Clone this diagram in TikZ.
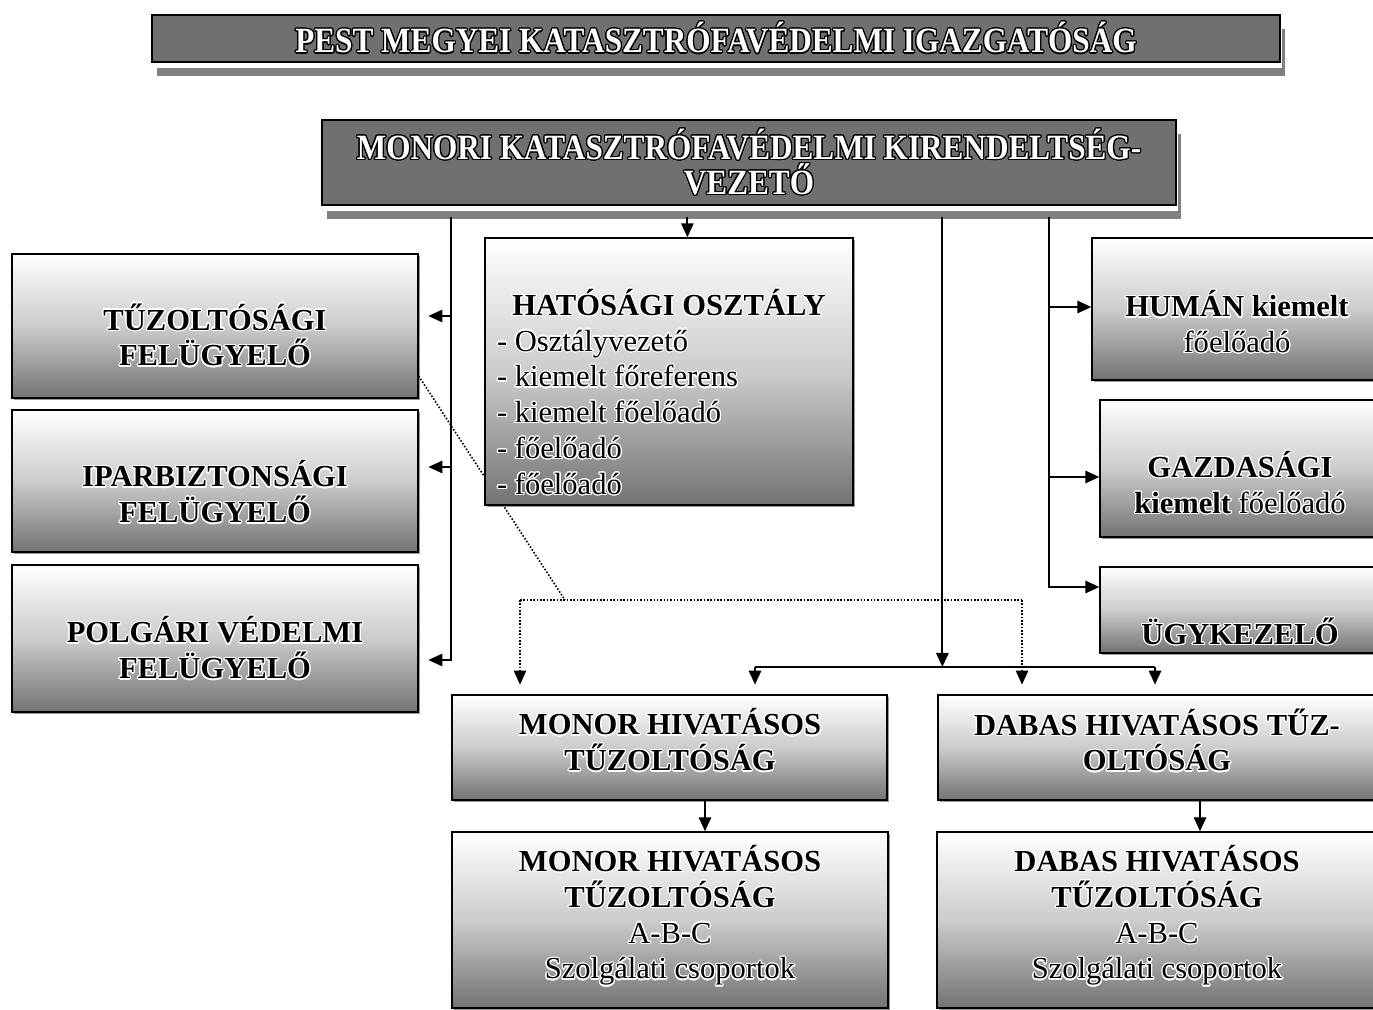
\documentclass[tikz,border=0pt]{standalone}
\usepackage{fontspec}
\setmainfont{Liberation Serif}
\newfontfamily\narrowserif{Liberation Serif}[FakeStretch=0.88]
\usepackage[copies]{contour}
\contourlength{0.7pt}
\usetikzlibrary{arrows.meta,shadows,calc}

\newcommand{\wh}[1]{\contour{white}{#1}}
\newcommand{\bk}[1]{\contour{black}{#1}}

\tikzset{
  darkbox/.style={draw=black, line width=0.8pt, fill=black!56, inner sep=0pt,
    text=white, align=center,
    font=\narrowserif\bfseries\fontsize{20.2}{20}\selectfont,
    drop shadow={shadow xshift=2.8pt, shadow yshift=-8pt, fill=black!50, opacity=1},
    drop shadow={shadow xshift=1.1pt, shadow yshift=-3.2pt, fill=white, opacity=1}},
  lightbox/.style={draw=black, line width=0.8pt, inner sep=0pt,
    top color=white, bottom color=black!55, middle color=black!20,
    drop shadow={shadow xshift=1.2pt, shadow yshift=-1.2pt, fill=black!40, opacity=1}},
  boxtext/.style={inner sep=0pt, align=center, font=\fontsize{17.4}{20.4}\selectfont},
  conn/.style={line width=1.2pt},
  dotline/.style={line width=0.9pt, densely dotted},
  arr/.style={-{Triangle[length=8pt,width=7pt]}},
  gap/.style={shorten >=5.5pt}
}

\begin{document}
\begin{tikzpicture}[x=0.02cm, y=-0.02cm]
\useasboundingbox (0,0) rectangle (1373,1010);
\clip (0,0) rectangle (1373,1010);

% headers
\node[darkbox, minimum width=22.56cm, minimum height=0.94cm] (pest) at (716,38.5)
  {\bk{PEST MEGYEI KATASZTRÓFAVÉDELMI IGAZGATÓSÁG}};
\node[darkbox, minimum width=17.08cm, minimum height=1.7cm] (monori) at (749,162.5)
  {\bk{MONORI KATASZTRÓFAVÉDELMI KIRENDELTSÉG-}\\\bk{VEZETŐ}};

% left column
\node[lightbox, minimum width=8.12cm, minimum height=2.88cm] (tuz) at (215,326) {};
\node[boxtext, font=\bfseries\fontsize{17.4}{20.4}\selectfont] (tuz-t) at (215,335.5)
  {\wh{TŰZOLTÓSÁGI}\\\wh{FELÜGYELŐ}};
\node[lightbox, minimum width=8.12cm, minimum height=2.84cm] (ipar) at (215,481) {};
\node[boxtext, font=\bfseries\fontsize{17.4}{20.4}\selectfont] (ipar-t) at (215,492.5)
  {\wh{IPARBIZTONSÁGI}\\\wh{FELÜGYELŐ}};
\node[lightbox, minimum width=8.12cm, minimum height=2.94cm] (polg) at (215,638.5) {};
\node[boxtext, font=\bfseries\fontsize{17.4}{20.4}\selectfont] (polg-t) at (215,648.5)
  {\wh{POLGÁRI VÉDELMI}\\\wh{FELÜGYELŐ}};

% right column
\node[lightbox, minimum width=5.86cm, minimum height=2.84cm] (human) at (1238.5,309) {};
\node[boxtext] (human-t) at (1237,322.5) {\textbf{\wh{HUMÁN kiemelt}}\\\wh{főelőadó}};
\node[lightbox, minimum width=5.7cm, minimum height=2.74cm] (gazd) at (1242.5,468.5) {};
\node[boxtext] (gazd-t) at (1240,483) {\textbf{\wh{GAZDASÁGI}}\\\wh{\textbf{kiemelt} főelőadó}};
\node[lightbox, minimum width=5.7cm, minimum height=1.72cm] (ugy) at (1242.5,610) {};
\node[boxtext] (ugy-t) at (1240,632) {\textbf{\wh{ÜGYKEZELŐ}}};

% fire brigades
\node[lightbox, minimum width=8.7cm, minimum height=2.1cm] (monor) at (669.5,747.5) {};
\node[boxtext, font=\bfseries\fontsize{17.4}{20.4}\selectfont] (monor-t) at (670,740.5)
  {\wh{MONOR HIVATÁSOS}\\\wh{TŰZOLTÓSÁG}};
\node[lightbox, minimum width=8.94cm, minimum height=2.1cm] (dabas) at (1161.5,747.5) {};
\node[boxtext, font=\bfseries\fontsize{17.4}{20.4}\selectfont] (dabas-t) at (1157,740.5)
  {\wh{DABAS HIVATÁSOS TŰZ-}\\\wh{OLTÓSÁG}};
\node[lightbox, minimum width=8.72cm, minimum height=3.52cm] (monorab) at (670,920) {};
\node[boxtext] (monorab-t) at (670,916)
  {\textbf{\wh{MONOR HIVATÁSOS}}\\\textbf{\wh{TŰZOLTÓSÁG}}\\\wh{A-B-C}\\\wh{Szolgálati csoportok}};
\node[lightbox, minimum width=8.96cm, minimum height=3.52cm] (dabasab) at (1161,920) {};
\node[boxtext] (dabasab-t) at (1157,916)
  {\textbf{\wh{DABAS HIVATÁSOS}}\\\textbf{\wh{TŰZOLTÓSÁG}}\\\wh{A-B-C}\\\wh{Szolgálati csoportok}};

% dotted link (runs under the office box)
\coordinate (dj) at (565,600);
\draw[dotline] (tuz.east |- 0,376) -- (dj);
\draw[dotline] (520,600) -- (1022,600);
\draw[dotline,arr,gap] (520,600) -- (520,600 |- monor.north);
\draw[dotline,arr,gap] (1022,600) -- (1022,600 |- dabas.north);

% office
\node[lightbox, minimum width=7.36cm, minimum height=5.34cm] (hat) at (669,371.5) {};
\node[boxtext, text width=6.88cm, align=flush left] (hat-t) at (669,392.5)
  {\makebox[6.88cm][c]{\textbf{\wh{HATÓSÁGI OSZTÁLY}}}\\
   \wh{- Osztályvezető}\\\wh{- kiemelt főreferens}\\\wh{- kiemelt főelőadó}\\
   \wh{- főelőadó}\\\wh{- főelőadó}};

% connectors
\coordinate (sL) at ($(monori.south west)+(130,11)$);
\coordinate (sC) at ($(monori.south west)+(366,11)$);
\coordinate (sM) at ($(monori.south west)+(621,11)$);
\coordinate (sR) at ($(monori.south west)+(728,11)$);

\draw[conn,arr,gap] (sL) |- (polg.east |- 0,660);
\foreach \n/\yy in {tuz/316, ipar/467}
  \draw[conn,arr,gap] (sL |- 0,\yy) -- (\n.east |- 0,\yy);

\draw[conn,arr] (sC) -- (sC |- hat.north);

\draw[conn,arr] (sR) |- (ugy.west |- 0,587);
\draw[conn,arr] (sR |- 0,307) -- (human.west |- 0,307);
\draw[conn,arr] (sR |- 0,477) -- (gazd.west |- 0,477);

\coordinate (bar) at (sM |- 0,667);
\coordinate (barL) at (755,667);
\coordinate (barR) at (1155,667);
\draw[conn,arr] (sM) -- (bar);
\draw[conn] (barL) -- (barR);
\draw[conn,arr,gap] (barL) -- (barL |- monor.north);
\draw[conn,arr,gap] (barR) -- (barR |- dabas.north);

\draw[conn,arr] (monor.south -| 705,0) -- (monorab.north -| 705,0);
\draw[conn,arr] (dabas.south -| 1200,0) -- (dabasab.north -| 1200,0);
\end{tikzpicture}
\end{document}
